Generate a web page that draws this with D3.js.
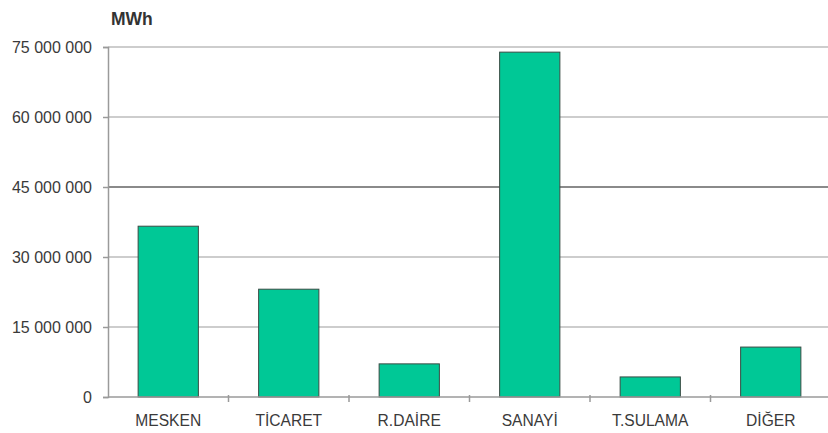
<!DOCTYPE html>
<html>
<head>
<meta charset="utf-8">
<script src="https://cdn.jsdelivr.net/npm/d3@7"></script>
<style>
  html, body { margin: 0; padding: 0; background: #fff; }
  svg { display: block; font-family: "Liberation Sans", Arial, sans-serif; }
</style>
</head>
<body>
<svg id="chart" width="828" height="433"></svg>
<script>
// Electricity consumption by sector (MWh)
const categories = ["MESKEN", "TİCARET", "R.DAİRE", "SANAYİ", "T.SULAMA", "DİĞER"];
const values = [36600000, 23100000, 7100000, 73900000, 4300000, 10700000];
const yTicks = [0, 15000000, 30000000, 45000000, 60000000, 75000000];
const unitLabel = "MWh";

const svg = d3.select("#chart");
const margin = { left: 108, top: 47, bottom: 36 };
const plotW = 723;
const plotH = 433 - margin.top - margin.bottom;

const x = d3.scaleBand().domain(categories).range([margin.left, margin.left + plotW]).paddingInner(0.5).paddingOuter(0.25);
const xBand = d3.scaleBand().domain(categories).range([margin.left, margin.left + plotW]);
const y = d3.scaleLinear().domain([0, 75000000]).range([margin.top + plotH, margin.top]);

const fmt = v => d3.format(",")(v).replace(/,/g, " ");

// horizontal gridlines
svg.append("g").selectAll("line").data(yTicks.filter(d => d > 0)).join("line")
  .attr("x1", margin.left).attr("x2", 828)
  .attr("y1", d => y(d)).attr("y2", d => y(d))
  .attr("stroke", d => d === 45000000 ? "#8a8a8a" : "#bdbdbd")
  .attr("stroke-width", d => d === 45000000 ? 2 : 1.5);

// y axis
const yAxis = d3.axisLeft(y).tickValues(yTicks).tickFormat(fmt).tickSize(5).tickPadding(11);
const gy = svg.append("g").attr("transform", `translate(${margin.left},0)`).call(yAxis);
gy.select(".domain").attr("stroke", "#9a9a9a").attr("stroke-width", 1.5);
gy.selectAll(".tick line").attr("stroke", "#9a9a9a").attr("stroke-width", 1.5);
gy.selectAll("text").attr("font-size", 16).attr("fill", "#3a3a3a").attr("font-family", "'Liberation Sans', Arial, sans-serif");

// bars
svg.append("g").selectAll("rect").data(values).join("rect")
  .attr("x", (d, i) => x(categories[i]))
  .attr("width", x.bandwidth())
  .attr("y", d => y(d))
  .attr("height", d => y(0) - y(d))
  .attr("fill", "#00c896")
  .attr("stroke", "#3a4a44")
  .attr("stroke-width", 1);

// x axis with ticks on band boundaries
const gx = svg.append("g").attr("transform", `translate(0,${y(0)})`);
gx.append("line").attr("x1", margin.left).attr("x2", 828).attr("stroke", "#9a9a9a").attr("stroke-width", 1.5);
gx.selectAll("line.tk").data(categories.slice(1)).join("line").attr("class", "tk")
  .attr("x1", d => xBand(d)).attr("x2", d => xBand(d))
  .attr("y1", -2).attr("y2", 5)
  .attr("stroke", "#9a9a9a").attr("stroke-width", 1.5);
gx.selectAll("text").data(categories).join("text")
  .attr("x", d => xBand(d) + xBand.bandwidth() / 2)
  .attr("y", 29)
  .attr("text-anchor", "middle")
  .attr("font-size", 15.6)
  .attr("fill", "#3a3a3a")
  .text(d => d);

// unit label
svg.append("text").attr("x", 111).attr("y", 24.5)
  .attr("font-size", 17.5).attr("font-weight", "bold").attr("fill", "#333")
  .text(unitLabel);
</script>
</body>
</html>
